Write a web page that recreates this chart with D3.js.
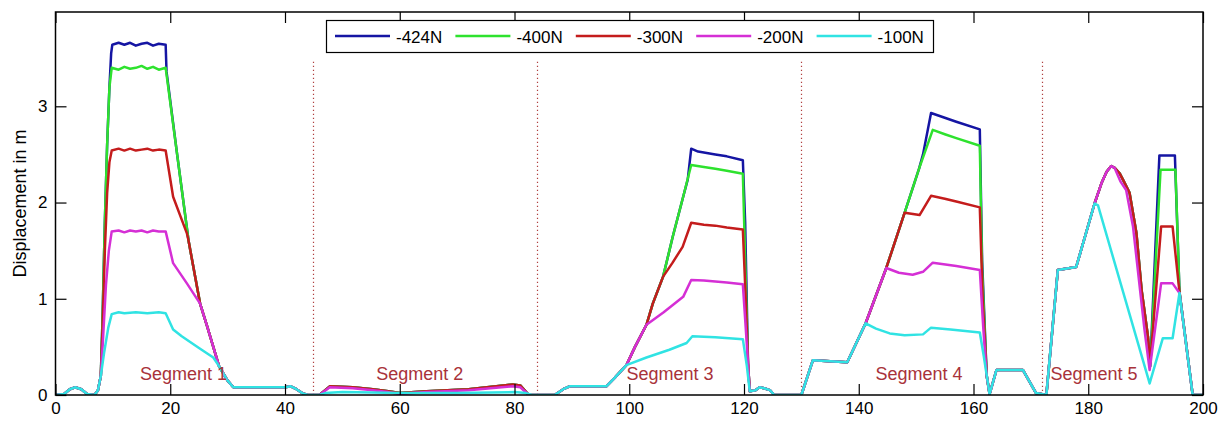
<!DOCTYPE html>
<html>
<head>
<meta charset="utf-8">
<script src="https://cdn.jsdelivr.net/npm/d3@7"></script>
<style>
body{margin:0;background:#fff;}
text{font-family:"Liberation Sans",Arial,sans-serif;}
</style>
</head>
<body>
<svg id="svg" width="1218" height="421"></svg>
<script>
// series names, legend order = draw order
var seriesNames=["-424N","-400N","-300N","-200N","-100N"]
var seriesColors=["#1515a3","#2ee22e","#c41c1c","#d52fd5","#30e3e3"]

var xTicks=[0,20,40,60,80,100,120,140,160,180,200]
var yTicks=[0,1,2,3]

// segment borders and labels
var segBounds=[44.9,83.9,130,172]
var segLabels=["Segment 1","Segment 2","Segment 3","Segment 4","Segment 5"]
var segLabelX=[22.3,63.5,107.1,150.5,181]

// displacement [time, m]
var s424=[[0,0],[1.5,0.01],[2.5,0.06],[3.4,0.08],[4.5,0.06],[5.5,0.01],[6.8,0],[7.4,0.05],[7.9,0.2],[8.2,0.8],[8.6,1.8],[9,2.6],[9.4,3.2],[9.7,3.55],[9.9,3.64],[11,3.66],[12,3.64],[13,3.66],[14,3.63],[15,3.65],[16,3.66],[17,3.63],[18,3.65],[19.2,3.64],[19.35,3.36],[21.2,2.5],[23.2,1.6],[25.2,0.95],[26.5,0.7],[28.1,0.38],[28.5,0.3],[30,0.15],[31,0.08],[35,0.08],[40,0.08],[41,0.09],[42,0.06],[43,0.02],[44,0],[46,0],[47.8,0.09],[51.8,0.08],[55.3,0.06],[58,0.04],[60,0.02],[64.7,0.04],[72,0.06],[79.7,0.11],[81,0.1],[82.5,0],[87,0],[88.5,0.06],[89.6,0.09],[92,0.09],[96,0.09],[97.5,0.18],[99.5,0.31],[101,0.5],[103,0.73],[104.1,0.95],[105.9,1.23],[107.6,1.65],[109.4,2.06],[110.2,2.24],[110.8,2.56],[112,2.53],[115,2.5],[117,2.48],[119.8,2.44],[120.2,1.8],[120.7,0.33],[121,0.04],[122,0.05],[122.7,0.08],[123.5,0.07],[124.5,0.05],[125.3,0],[130,0],[132,0.36],[135,0.35],[138,0.34],[141.2,0.745],[144.8,1.32],[148,1.895],[150.5,2.35],[151.2,2.5],[152.6,2.93],[157,2.84],[161.1,2.76],[161.5,1.4],[162.3,0.2],[162.8,0.01],[164,0.26],[168.6,0.26],[170.9,0.02],[172.7,0],[174.7,1.3],[177.9,1.33],[181.1,1.99],[182.3,2.2],[183.2,2.32],[184,2.38],[184.6,2.36],[185.5,2.3],[186.2,2.22],[187.2,2.1],[188.4,1.68],[189.3,1.09],[190.4,0.61],[190.8,0.3],[192.4,2.49],[195.1,2.49],[195.9,1.07],[198.2,0],[200,0]]

var s400=[[0,0],[1.5,0.01],[2.5,0.06],[3.4,0.08],[4.5,0.06],[5.5,0.01],[6.8,0],[7.4,0.05],[7.9,0.2],[8.2,0.8],[8.6,1.8],[9,2.6],[9.4,3.2],[9.8,3.4],[11,3.38],[12,3.41],[13,3.39],[14,3.4],[15,3.42],[16,3.39],[17,3.41],[18,3.38],[19.2,3.4],[21.2,2.5],[23.2,1.6],[25.2,0.95],[26.5,0.7],[28.1,0.38],[28.5,0.3],[30,0.15],[31,0.08],[35,0.08],[40,0.08],[41,0.09],[42,0.06],[43,0.02],[44,0],[46,0],[47.8,0.09],[51.8,0.08],[55.3,0.06],[58,0.04],[60,0.02],[64.7,0.04],[72,0.06],[79.7,0.11],[81,0.1],[82.5,0],[87,0],[88.5,0.06],[89.6,0.09],[92,0.09],[96,0.09],[97.5,0.18],[99.5,0.31],[101,0.5],[103,0.73],[104.1,0.95],[105.9,1.23],[107.6,1.65],[109.4,2.06],[110.8,2.39],[113,2.37],[115,2.35],[117,2.33],[119.8,2.3],[120.3,1.2],[120.7,0.33],[121,0.04],[122,0.05],[122.7,0.08],[123.5,0.07],[124.5,0.05],[125.3,0],[130,0],[132,0.36],[135,0.35],[138,0.34],[141.2,0.745],[144.8,1.32],[148,1.895],[150.5,2.35],[152.9,2.755],[155,2.71],[157,2.67],[161.1,2.59],[161.5,1.3],[162.3,0.2],[162.8,0.01],[164,0.26],[168.6,0.26],[170.9,0.02],[172.7,0],[174.7,1.3],[177.9,1.33],[181.1,1.99],[182.3,2.2],[183.2,2.32],[184,2.38],[184.6,2.36],[185.5,2.3],[186.2,2.22],[187.2,2.1],[188.4,1.68],[189.3,1.09],[190.4,0.61],[190.8,0.3],[192.6,2.34],[195.2,2.34],[195.9,1.07],[198.2,0],[200,0]]

var s300=[[0,0],[1.5,0.01],[2.5,0.06],[3.4,0.08],[4.5,0.06],[5.5,0.01],[6.8,0],[7.4,0.05],[7.9,0.2],[8.2,0.7],[8.6,1.5],[9,2.1],[9.4,2.42],[9.8,2.54],[11,2.56],[12,2.54],[13,2.56],[14,2.54],[15,2.55],[16,2.56],[17,2.54],[18,2.55],[19.2,2.54],[20.5,2.06],[22.9,1.68],[23.2,1.6],[25.2,0.95],[26.5,0.7],[28.1,0.38],[28.5,0.3],[30,0.15],[31,0.08],[35,0.08],[40,0.08],[41,0.09],[42,0.06],[43,0.02],[44,0],[46,0],[47.8,0.09],[51.8,0.08],[55.3,0.06],[58,0.04],[60,0.02],[64.7,0.04],[72,0.06],[79.7,0.11],[81,0.1],[82.5,0],[87,0],[88.5,0.06],[89.6,0.09],[92,0.09],[96,0.09],[97.5,0.18],[99.5,0.31],[101,0.5],[103,0.73],[104.1,0.95],[105.9,1.23],[107.5,1.37],[109.3,1.54],[110.8,1.79],[113,1.77],[115,1.76],[117,1.74],[119.8,1.72],[120.3,1],[120.7,0.33],[121,0.04],[122,0.05],[122.7,0.08],[123.5,0.07],[124.5,0.05],[125.3,0],[130,0],[132,0.36],[135,0.35],[138,0.34],[141.2,0.745],[144.8,1.32],[148,1.895],[150.6,1.87],[152.6,2.07],[155,2.04],[157,2.01],[161.1,1.95],[161.6,1],[162.3,0.2],[162.8,0.01],[164,0.26],[168.6,0.26],[170.9,0.02],[172.7,0],[174.7,1.3],[177.9,1.33],[181.1,1.99],[182.3,2.2],[183.2,2.32],[184,2.38],[184.6,2.36],[185.5,2.3],[186.2,2.22],[187.2,2.1],[188.4,1.68],[189.3,1.09],[190.4,0.61],[190.8,0.33],[192.7,1.75],[194.7,1.75],[195.9,1.07],[198.2,0],[200,0]]

var s200=[[0,0],[1.5,0.01],[2.5,0.06],[3.4,0.08],[4.5,0.06],[5.5,0.01],[6.8,0],[7.4,0.05],[7.9,0.2],[8.3,0.6],[8.8,1.15],[9.3,1.5],[9.8,1.7],[11,1.71],[12,1.69],[13,1.71],[14,1.7],[15,1.71],[16,1.69],[17,1.71],[18,1.7],[19.2,1.7],[20.5,1.37],[22.9,1.16],[25.2,0.95],[26.5,0.7],[28.1,0.38],[28.5,0.3],[30,0.15],[31,0.08],[35,0.08],[40,0.08],[41,0.09],[42,0.06],[43,0.02],[44,0],[46,0],[47.8,0.08],[51.8,0.07],[55.3,0.05],[58,0.03],[60,0.01],[64.7,0.03],[72,0.05],[79.7,0.09],[81,0.08],[82.5,0],[87,0],[88.5,0.06],[89.6,0.09],[92,0.09],[96,0.09],[97.5,0.18],[99.5,0.31],[101,0.5],[103,0.73],[106,0.86],[109.4,1.02],[110.8,1.195],[113,1.19],[115,1.18],[117,1.17],[119.8,1.15],[120.3,0.7],[120.7,0.33],[121,0.04],[122,0.05],[122.7,0.08],[123.5,0.07],[124.5,0.05],[125.3,0],[130,0],[132,0.36],[135,0.35],[138,0.34],[141.2,0.745],[144.8,1.32],[147,1.27],[149.4,1.25],[151.2,1.28],[152.9,1.375],[157,1.34],[161.1,1.3],[161.7,0.7],[162.3,0.2],[162.8,0.01],[164,0.26],[168.6,0.26],[170.9,0.02],[172.7,0],[174.7,1.3],[177.9,1.33],[181.1,1.99],[182.3,2.2],[183.2,2.32],[184,2.38],[184.6,2.36],[185.6,2.22],[186.6,2.13],[187.8,1.75],[188.9,1.16],[189.8,0.68],[190.7,0.26],[192.7,1.16],[194.7,1.16],[195.9,1.06],[198.2,0],[200,0]]

var s100=[[0,0],[1.5,0.01],[2.5,0.06],[3.4,0.08],[4.5,0.06],[5.5,0.01],[6.8,0],[7.4,0.05],[7.9,0.2],[8.5,0.45],[9.2,0.7],[9.8,0.84],[11,0.86],[12,0.85],[14,0.86],[16,0.85],[18,0.86],[19.2,0.85],[20.5,0.68],[22,0.61],[25.2,0.48],[27.5,0.39],[28.5,0.3],[30,0.15],[31,0.08],[35,0.08],[40,0.08],[41,0.09],[42,0.06],[43,0.02],[44,0],[46,0],[47,0.02],[50,0.03],[60,0.02],[70,0.02],[80,0.03],[82,0.02],[83,0],[87,0],[88.5,0.06],[89.6,0.09],[92,0.09],[96,0.09],[97.5,0.18],[99.5,0.31],[103,0.39],[107,0.47],[110,0.54],[111,0.61],[115,0.6],[119.8,0.58],[120.5,0.3],[121,0.04],[122,0.05],[122.7,0.08],[123.5,0.07],[124.5,0.05],[125.3,0],[130,0],[132,0.36],[135,0.35],[138,0.34],[141.2,0.745],[143,0.69],[145.4,0.64],[148,0.62],[151.2,0.63],[152.6,0.7],[156,0.68],[161.1,0.65],[161.8,0.4],[162.8,0.01],[164,0.26],[168.6,0.26],[170.9,0.02],[172.7,0],[174.7,1.3],[177.9,1.33],[181.1,1.99],[181.7,1.97],[190.7,0.12],[193,0.59],[194.7,0.59],[195.9,1.06],[198.2,0],[200,0]]

var allSeries=[s424,s400,s300,s200,s100]

var padLeft=55.5, padRight=1203, padTop=12, padBottom=395
var svg=d3.select("#svg")

var x=d3.scaleLinear().domain([0,200]).range([padLeft,padRight])
var y=d3.scaleLinear().domain([0,3.98]).range([padBottom,padTop])

var line=d3.line().x(d=>x(d[0])).y(d=>y(d[1]))

svg.append("clipPath").attr("id","clip")
    .append("rect").attr("x",padLeft).attr("y",padTop).attr("width",padRight-padLeft).attr("height",padBottom-padTop)

// segment borders
svg.selectAll(".seg")
    .data(segBounds).enter().append("line")
        .attr("x1",d=>Math.round(x(d))+0.5).attr("x2",d=>Math.round(x(d))+0.5)
        .attr("y1",y(0)).attr("y2",y(3.47))
        .style("stroke","#b04040")
        .style("stroke-width","1.2")
        .style("stroke-dasharray","1.2,2.8")

var plot=svg.append("g").attr("clip-path","url(#clip)")
plot.selectAll(".series")
    .data(allSeries).enter().append("path")
        .attr("class","series")
        .attr("d",line)
        .style("fill","none")
        .style("stroke",(d,i)=>seriesColors[i])
        .style("stroke-width","2.5")
        .style("stroke-linejoin","round")

svg.selectAll(".seglabel")
    .data(segLabels).enter().append("text")
        .attr("x",(d,i)=>x(segLabelX[i]))
        .attr("y",y(0)-15)
        .attr("text-anchor","middle")
        .style("font-size","18px")
        .style("fill","#a8323a")
        .text(d=>d)

// axes, ticks inward on all four sides
var tickLen=11
svg.append("g").attr("transform","translate(0,"+padBottom+")")
    .call(d3.axisBottom(x).tickValues(xTicks).tickSizeInner(-tickLen).tickSizeOuter(0).tickPadding(7))
svg.append("g").attr("transform","translate(0,"+padTop+")")
    .call(d3.axisTop(x).tickValues(xTicks).tickSizeInner(-tickLen).tickSizeOuter(0).tickFormat(""))
svg.append("g").attr("transform","translate("+padLeft+",0)")
    .call(d3.axisLeft(y).tickValues(yTicks).tickSizeInner(-tickLen).tickSizeOuter(0).tickPadding(8).tickFormat(d3.format("d")))
svg.append("g").attr("transform","translate("+padRight+",0)")
    .call(d3.axisRight(y).tickValues(yTicks).tickSizeInner(-tickLen).tickSizeOuter(0).tickFormat(""))

svg.selectAll(".tick text").style("font-size","17px").style("fill","#000")
svg.selectAll(".domain").remove()
svg.selectAll(".tick line").style("stroke","#000").style("stroke-width","1.2")

svg.append("rect")
    .attr("x",padLeft).attr("y",padTop).attr("width",padRight-padLeft).attr("height",padBottom-padTop)
    .style("fill","none").style("stroke","#000").style("stroke-width","1.5")

svg.append("text")
    .attr("transform","translate(26,"+((padTop+padBottom)/2)+") rotate(-90)")
    .attr("text-anchor","middle")
    .style("font-size","18px")
    .text("Displacement in m")

// legend
var legend=svg.append("g")
legend.append("rect")
    .attr("x",326.5).attr("y",20.5).attr("width",607).attr("height",32)
    .style("fill","#fff").style("stroke","#000").style("stroke-width","1.2")
var items=legend.selectAll(".item")
    .data(seriesNames).enter().append("g")
        .attr("transform",(d,i)=>"translate("+(335+i*120.4)+",36)")
items.append("line")
    .attr("x1",0).attr("x2",55)
    .style("stroke",(d,i)=>seriesColors[i])
    .style("stroke-width","2.5")
items.append("text")
    .attr("x",61).attr("y",7)
    .style("font-size","17px")
    .text(d=>d)
</script>
</body>
</html>
